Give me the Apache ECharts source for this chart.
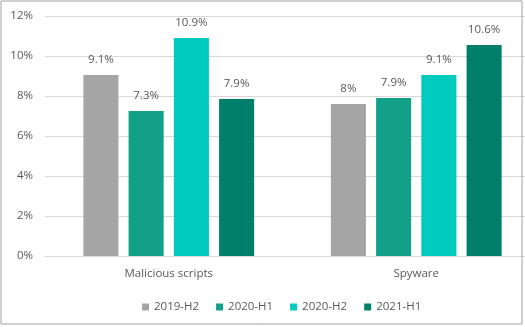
<!DOCTYPE html>
<html><head><meta charset="utf-8">
<script src="https://cdn.jsdelivr.net/npm/echarts@6/dist/echarts.min.js"></script>
<style>html,body{margin:0;padding:0;background:#fff}#c{width:525px;height:327px}</style>
</head><body><div id="c"></div>
<script>
const categories = ["Malicious scripts", "Spyware"];
const seriesNames = ["2019-H2", "2020-H1", "2020-H2", "2021-H1"];
const s2019H2 = [9.05, 7.6];
const s2020H1 = [7.25, 7.9];
const s2020H2 = [10.9, 9.05];
const s2021H1 = [7.85, 10.55];
const lbl2019H2 = ["9.1%", "8%"];
const lbl2020H1 = ["7.3%", "7.9%"];
const lbl2020H2 = ["10.9%", "9.1%"];
const lbl2021H1 = ["7.9%", "10.6%"];
const yTicks = [0, 2, 4, 6, 8, 10, 12];

const colors = ["#a5a5a5", "#13a088", "#00cbbe", "#017f6b"];
const values = [s2019H2, s2020H1, s2020H2, s2021H1];
const labels = [lbl2019H2, lbl2020H1, lbl2020H2, lbl2021H1];
const font = "'Open Sans', 'Liberation Sans', sans-serif";

const chart = echarts.init(document.getElementById('c'), null, {renderer: 'canvas'});
chart.setOption({
  animation: false,
  backgroundColor: '#fff',
  textStyle: {fontFamily: font},
  graphic: [{type: 'rect', shape: {x: 1, y: 1, width: 521, height: 323}, style: {fill: 'none', stroke: '#a0a0a0', lineWidth: 1}, z: 100}],
  grid: {left: 45, width: 495, top: 16, height: 240, containLabel: false, outerBoundsMode: 'none'},
  legend: {
    data: seriesNames, top: 296, left: 137, itemWidth: 7, itemHeight: 7, itemGap: 17,
    icon: 'rect', textStyle: {color: '#595959', fontSize: 11.5, fontFamily: font}
  },
  xAxis: {
    type: 'category', data: categories,
    axisLine: {lineStyle: {color: '#d9d9d9'}}, axisTick: {show: false},
    axisLabel: {color: '#595959', fontSize: 11.5, margin: 12, fontFamily: font}
  },
  yAxis: {
    type: 'value', min: 0, max: 12, interval: 2,
    axisLine: {show: false}, axisTick: {show: false},
    splitLine: {lineStyle: {color: '#d9d9d9'}},
    axisLabel: {color: '#595959', fontSize: 11.5, margin: 12, fontFamily: font,
      formatter: v => yTicks.includes(v) ? v + '%' : ''}
  },
  series: seriesNames.map((n, i) => ({
    name: n, type: 'bar', data: values[i],
    itemStyle: {color: colors[i]},
    barGap: '29%', barCategoryGap: '31%',
    label: {show: true, position: 'top', distance: 9, color: '#595959', fontSize: 11.5, fontFamily: font,
      formatter: p => labels[i][p.dataIndex]}
  }))
});
</script></body></html>
